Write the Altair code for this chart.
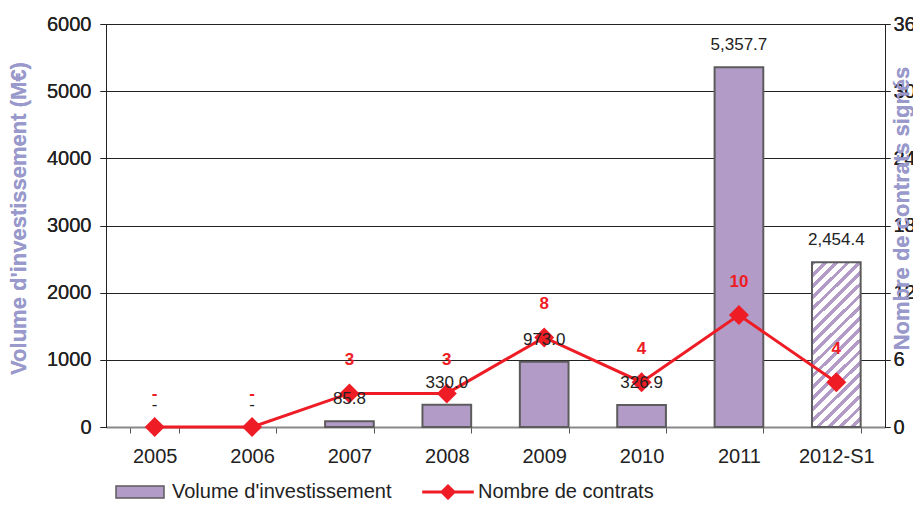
import altair as alt
import pandas as pd

# ---- data ----
years = ["2005", "2006", "2007", "2008", "2009", "2010", "2011", "2012-S1"]
volume = [0, 0, 85.8, 330.0, 973.0, 326.9, 5357.7, 2454.4]
contracts = [0, 0, 3, 3, 8, 4, 10, 4]
hatched = [False, False, False, False, False, False, False, True]
bar_series = "Volume d'investissement"
line_series = "Nombre de contrats"

vol_labels = ["-" if v == 0 else f"{v:,.1f}" for v in volume]
con_labels = ["-" if c == 0 else str(c) for c in contracts]

df = pd.DataFrame({
    "year": years,
    "volume": volume,
    "contracts": contracts,
    "hatched": hatched,
    "vol_label": vol_labels,
    "con_label": con_labels,
    "bar_series": [bar_series] * len(years),
    "line_series": [line_series] * len(years),
})

# ---- styles ----
PURPLE = "#b39bc8"
RED = "#ee1c25"
EDGE = "#5c5c5c"
TITLE_COL = "#9999cc"
FONT = "Liberation Sans"

# diagonal hatch emulated with a striped linear gradient
n_stripes = 19
stops = []
for i in range(n_stripes):
    a = i / n_stripes
    b = (i + 0.42) / n_stripes
    c = (i + 1) / n_stripes
    stops += [
        {"offset": a, "color": PURPLE},
        {"offset": b, "color": PURPLE},
        {"offset": b, "color": "#ffffff"},
        {"offset": c, "color": "#ffffff"},
    ]
hatch = {"gradient": "linear", "x1": 0, "y1": 0, "x2": 0.346, "y2": 1.19, "stops": stops}

X = alt.X(
    "year:N",
    sort=years,
    scale=alt.Scale(paddingInner=0.5, paddingOuter=0.25),
    axis=alt.Axis(
        title=None, labelAngle=0, tickBand="extent", labelFontSize=20,
        labelColor="#222222", labelPadding=13, tickSize=6, tickColor="#555555",
        domainColor="#888888", domainWidth=2, grid=False,
    ),
)

Y_left = alt.Y(
    "volume:Q",
    scale=alt.Scale(domain=[0, 6000], nice=False),
    axis=alt.Axis(
        values=[0, 1000, 2000, 3000, 4000, 5000, 6000], format="d",
        title="Volume d'investissement (M€)", titleFontSize=22, titleFontWeight="bold",
        titleColor=TITLE_COL, titleAngle=270, titleX=-76, titleY=194, titleBaseline="bottom",
        labelFontSize=20, labelColor="#222222", labelPadding=9, tickSize=6,
        tickColor="#222222", domainColor="#222222", grid=True, gridColor="#222222",
        gridWidth=1,
    ),
)

Y_right = alt.Y(
    "contracts:Q",
    scale=alt.Scale(domain=[0, 36], nice=False),
    axis=alt.Axis(
        orient="right", values=[0, 6, 12, 18, 24, 30, 36],
        title="Nombre de contrats signés", titleFontSize=22, titleFontWeight="bold",
        titleColor=TITLE_COL, titleAngle=270, titleX=28, titleY=184, titleBaseline="bottom",
        labelFontSize=20, labelColor="#222222", labelPadding=3, tickSize=5,
        tickColor="#222222", domainColor="#222222", grid=False,
    ),
)

base = alt.Chart(df)

bars = base.mark_bar(stroke=EDGE, strokeWidth=2).encode(
    x=X,
    y=Y_left,
    fill=alt.Fill(
        "bar_series:N",
        scale=alt.Scale(domain=[bar_series], range=[PURPLE]),
        legend=alt.Legend(
            title=None, orient="none", legendX=24, legendY=458, padding=0,
            symbolType="M-4,-1H4V1H-4Z", symbolSize=144, symbolStrokeColor=EDGE,
            symbolStrokeWidth=1.5, labelOffset=22, labelFontSize=20, labelLimit=500,
            labelColor="#222222", labelFont=FONT,
        ),
    ),
).transform_filter("!datum.hatched && datum.volume > 0")

hatched_bar = base.mark_bar(stroke=EDGE, strokeWidth=2, fill=hatch).encode(
    x=X, y=Y_left
).transform_filter("datum.hatched")

bar_text = base.mark_text(fontSize=17, color="#222222", dy=-22).encode(
    x=X, y=Y_left, text="vol_label:N"
)

line = base.mark_line(strokeWidth=3).encode(
    x=X,
    y=Y_right,
    stroke=alt.Stroke(
        "line_series:N",
        scale=alt.Scale(domain=[line_series], range=[RED]),
        legend=alt.Legend(
            title=None, orient="none", legendX=332, legendY=458, padding=0,
            symbolType="M-4.3,0H4.3M-1,0L0,-1L1,0L0,1Z", symbolSize=144,
            symbolFillColor=RED, symbolStrokeColor=RED, symbolStrokeWidth=3,
            labelOffset=20, labelFontSize=20, labelLimit=500,
            labelColor="#222222", labelFont=FONT,
        ),
    ),
)

points = base.mark_point(shape="diamond", filled=True, size=400, color=RED, opacity=1).encode(
    x=X, y=Y_right
)

red_text = base.mark_text(fontSize=17, fontWeight="bold", color=RED, dy=-33).encode(
    x=X, y=Y_right, text="con_label:N"
)

left = alt.layer(bars, hatched_bar)
right = alt.layer(line, points)

chart = (
    alt.layer(left, right, bar_text, red_text)
    .resolve_scale(y="independent", fill="independent", stroke="independent")
    .properties(
        width=779,
        height=403,
        padding={"left": 98, "top": 16, "right": 28, "bottom": 73},
        autosize=alt.AutoSizeParams(type="none"),
    )
    .configure(font=FONT)
    .configure_view(stroke=None)
)

chart.save("out.html", embed_options={"renderer": "svg", "actions": False})
